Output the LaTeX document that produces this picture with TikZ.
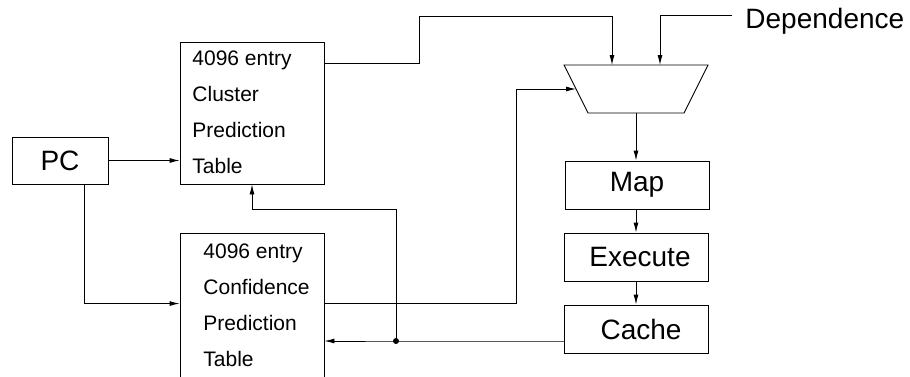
\documentclass[tikz,border=0pt]{standalone}
\usepackage{fontspec}
\setmainfont{Liberation Sans}
\usetikzlibrary{arrows.meta}

\tikzset{
  box/.style={draw, minimum width=144pt, minimum height=48pt, inner sep=0pt,
    font=\fontsize{28}{30}\selectfont},
  tbl/.style={draw, minimum width=144pt, minimum height=142pt, inner sep=0pt},
  tbltxt/.style={anchor=north west, align=left, inner sep=0pt,
    font=\fontsize{21}{36}\selectfont},
  arr/.style={-{Latex[length=10pt,width=5pt]}},
}

\begin{document}
\begin{tikzpicture}[x=1pt, y=-1pt, line width=0.9pt]
            \useasboundingbox (0,0) rectangle (910,376);

            % program counter and the two tables
            \node[box, minimum width=96pt, minimum height=47pt] (pc) at (60,160.5) {PC};
            \node[tbl] (cpt) at (252,113) {};
            \node[tbltxt] (cpttxt) at (192,50) {4096 entry\\Cluster\\Prediction\\Table};
            \node[tbl, minimum height=150pt] (cft) at (252,308) {};
            \node[tbltxt] (cfttxt) at (203,243) {4096 entry\\Confidence\\Prediction\\Table};

            % selector
            \coordinate (muxtl) at (564,65);
            \coordinate (muxtr) at (708,65);
            \coordinate (muxbr) at (684,113);
            \coordinate (muxbl) at (588,113);
            \draw (muxtl) -- (muxtr) -- (muxbr) -- (muxbl) -- cycle;
            \coordinate (muxa) at (612,65);
            \coordinate (muxb) at (660,65);
            \coordinate (muxc) at (576,89);
            \coordinate (muxout) at (636,113);

            % pipeline
            \node[box] (map) at (637,185) {Map\hspace{18pt}};
            \node[box] (exe) at (636,257) {\hspace{8pt}Execute};
            \node[box] (cache) at (636,329) {\hspace{10pt}Cache};
            \node[font=\fontsize{28}{30}\selectfont, anchor=base west, inner sep=0pt]
                (dep) at (745,28) {Dependence};

            \coordinate (jn) at (396,341);

            % connections
            \draw[arr] (pc.east) -- (pc.east -| cpt.west);
            \draw[arr] ([xshift=24pt]pc.south) |- ([yshift=-71pt]cft.north west);
            \draw[arr] ([yshift=-22pt]cpt.north east) -| (419,16) -| (muxa);
            \draw[arr] ([xshift=-13pt,yshift=5pt]dep.west) -| (muxb);
            \draw[arr] ([yshift=-71pt]cft.north east) -| (516,89) -- (muxc);
            \draw[arr] (muxout) -- (muxout |- map.north);
            \draw[arr] (map.south -| muxout) -- (exe.north -| muxout);
            \draw[arr] (exe) -- (cache);
            \draw[arr] ([yshift=-12pt]cache.west) -- (jn) -- (jn -| cft.east);
            \draw[arr] (jn) |- ([yshift=-25pt]cpt.south) -- (cpt.south);
            \fill (jn) circle (3pt);
        \end{tikzpicture}
\end{document}
